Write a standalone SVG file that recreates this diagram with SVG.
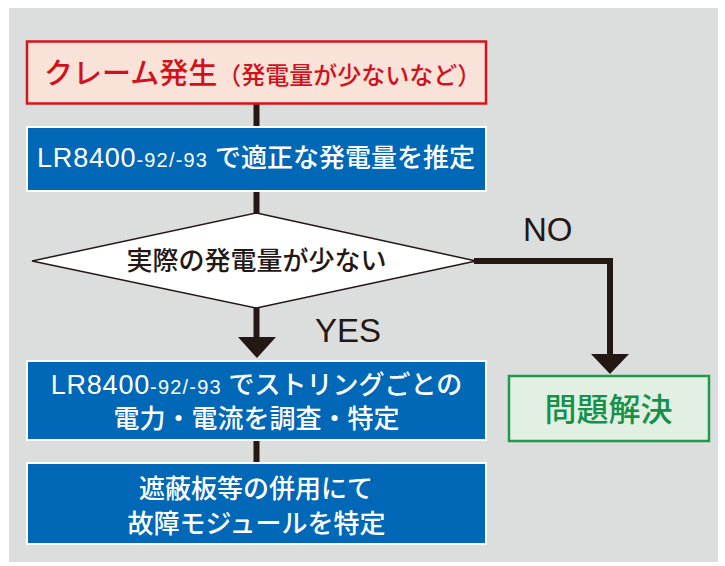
<svg xmlns="http://www.w3.org/2000/svg" width="725" height="566" viewBox="0 0 725 566">
<style>
.t{font-family:"Liberation Sans","Noto Sans CJK JP",sans-serif;font-weight:500;}
.w{fill:#ffffff;font-size:26px;text-anchor:middle;}
.blue{fill:#0068b7;stroke:#ffffff;stroke-width:2;}
.ln{fill:none;stroke:#231815;stroke-width:6;}
.ah{fill:#231815;}
.lab{fill:#231815;font-size:33px;font-weight:normal;}
.sm{font-size:20px;letter-spacing:1.2px;}
.lg{font-size:27px;letter-spacing:0.8px;}
</style>
<rect x="9" y="8" width="709" height="554" fill="#dcdddd"/>
<g id="connectors">
<line class="ln" x1="256.5" y1="104" x2="256.5" y2="128"/>
<line class="ln" x1="256.5" y1="190" x2="256.5" y2="214"/>
<line class="ln" x1="256.5" y1="307" x2="256.5" y2="340"/>
<polygon class="ah" points="238,337 276,337 257,358"/>
<path class="ln" d="M474,261 H610 V356"/>
<polygon class="ah" points="591,354 629,354 610,374"/>
<line class="ln" x1="256.5" y1="439" x2="256.5" y2="464"/>
<text class="t lab" x="523" y="241">NO</text>
<text class="t lab" x="315" y="342">YES</text>
</g>
<g id="n_claim">
<rect x="27" y="41.5" width="459" height="62" fill="#f9e2d8" stroke="#d7141e" stroke-width="2.5"/>
<text class="t" x="44" y="84" fill="#d1121c"><tspan font-size="29px">クレーム発生</tspan><tspan font-size="24px">（発電量が少ないなど）</tspan></text>
</g>
<g id="n_estimate">
<rect class="blue" x="27" y="127" width="459" height="64"/>
<text class="t w" x="256" y="167"><tspan class="lg">LR8400</tspan><tspan class="sm">-92/-93 </tspan>で適正な発電量を推定</text>
</g>
<g id="n_decision">
<polygon points="256.5,213 476,261 256.5,308 32,261" fill="#ffffff" stroke="#231815" stroke-width="1.5"/>
<text class="t" x="256.5" y="270" text-anchor="middle" font-size="26px" fill="#231815">実際の発電量が少ない</text>
</g>
<g id="n_string">
<rect class="blue" x="27" y="361" width="459" height="79"/>
<text class="t w" x="256.5" y="394"><tspan class="lg">LR8400</tspan><tspan class="sm">-92/-93 </tspan>でストリングごとの</text>
<text class="t w" x="256.5" y="427.5">電力・電流を調査・特定</text>
</g>
<g id="n_module">
<rect class="blue" x="27" y="463" width="459" height="81"/>
<text class="t w" x="256" y="498">遮蔽板等の併用にて</text>
<text class="t w" x="256.5" y="532.5">故障モジュールを特定</text>
</g>
<g id="n_solved">
<rect x="509" y="376" width="200" height="65" fill="#e1f0e2" stroke="#1e9a4a" stroke-width="2.5"/>
<text class="t" x="608.5" y="420.5" text-anchor="middle" font-size="32px" font-weight="bold" fill="#16914a">問題解決</text>
</g>
</svg>
